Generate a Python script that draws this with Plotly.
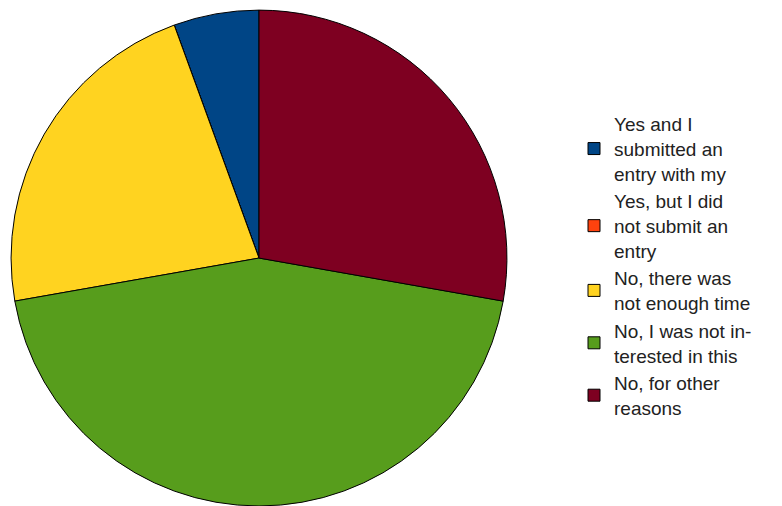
import plotly.graph_objects as go

# Survey answers (counts) and legend labels
labels = [
    "Yes and I<br>submitted an<br>entry with my",
    "Yes, but I did<br>not submit an<br>entry",
    "No, there was<br>not enough time",
    "No, I was not in-<br>terested in this",
    "No, for other<br>reasons",
]
counts = [1, 0, 4, 8, 5]
colors = ["#004586", "#ff420e", "#ffd320", "#579d1c", "#7e0021"]

W, H = 782, 506

fig = go.Figure(
    go.Pie(
        labels=labels,
        values=counts,
        sort=False,
        direction="counterclockwise",
        rotation=-20,
        marker=dict(colors=colors, line=dict(color="#000000", width=1)),
        textinfo="none",
        hoverinfo="skip",
        domain=dict(x=[11 / W, 507 / W], y=[0.0, 0.98]),
        showlegend=True,
    )
)

fig.update_layout(
    width=W,
    height=H,
    margin=dict(l=0, r=0, t=0, b=0),
    paper_bgcolor="white",
    plot_bgcolor="white",
    legend=dict(
        x=574 / W,
        y=1 - 105 / H,
        xanchor="left",
        yanchor="top",
        font=dict(family="Liberation Sans, Arial, sans-serif", size=19, color="#222222"),
        traceorder="normal",
        itemclick=False,
        itemdoubleclick=False,
        tracegroupgap=0,
    ),
)

fig.write_html("out.html")
